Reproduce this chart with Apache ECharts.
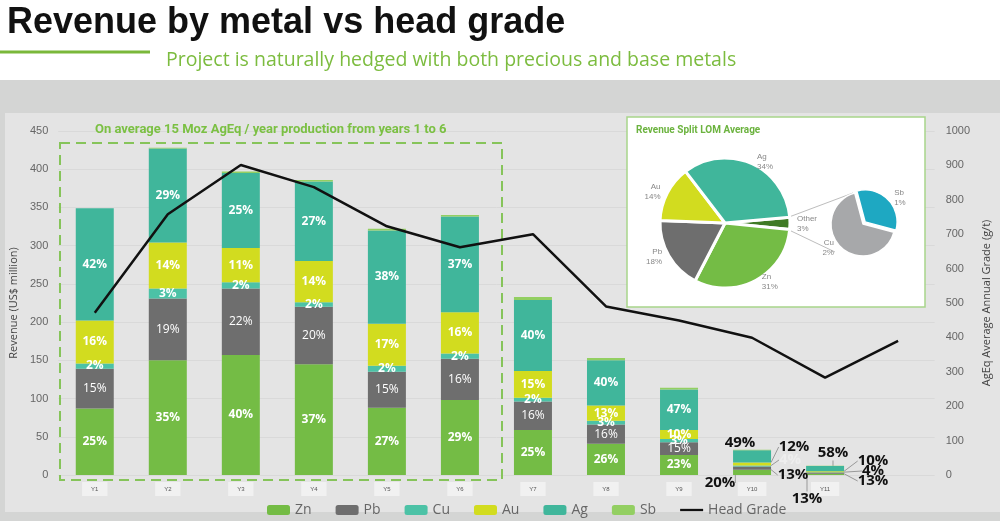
<!DOCTYPE html>
<html>
<head>
<meta charset="utf-8">
<script src="https://cdn.jsdelivr.net/npm/echarts@6/dist/echarts.min.js"></script>
<style>
  html, body { margin: 0; padding: 0; background: #fff; }
  #chart { width: 1000px; height: 521px; }
</style>
</head>
<body>
<div id="chart"></div>
<script>
// years (Y12 has only a head grade point)
var years = ['Y1','Y2','Y3','Y4','Y5','Y6','Y7','Y8','Y9','Y10','Y11',''];

// revenue by metal, US$ million
var zn = [87, 150, 157, 145, 88, 98, 59, 41, 26, 7, 1.6];
var pb = [52, 81, 87, 75, 47, 54, 37, 25, 17, 4, 1.6];
var cu = [7, 13, 8, 6, 8, 7, 5, 5, 4, 1.3, 0.5];
var au = [56, 60, 45, 54, 55, 54, 35, 20, 12, 4, 1.2];
var ag = [147, 123, 98, 104, 122, 125, 93, 59, 53, 16, 7];
var sb = [0, 1, 2, 2, 2, 2, 4, 3, 2, 0.7, 0.3];

// share of each year's revenue, %
var znPct = [25, 35, 40, 37, 27, 29, 25, 26, 23, 20, 13];
var pbPct = [15, 19, 22, 20, 15, 16, 16, 16, 15, 13, 13];
var cuPct = [2, 3, 2, 2, 2, 2, 2, 3, 3, 4, 4];
var auPct = [16, 14, 11, 14, 17, 16, 15, 13, 10, 12, 10];
var agPct = [42, 29, 25, 27, 38, 37, 40, 40, 47, 49, 58];

// AgEq head grade, g/t
var headGrade = [472, 758, 901, 837, 723, 662, 700, 490, 449, 399, 283, 390];

// LOM revenue split
var lomNames = ['Other', 'Zn', 'Pb', 'Au', 'Ag'];
var lomPct = [3, 31, 18, 14, 34];
var otherNames = ['Sb', 'Cu'];
var otherPct = [1, 2];

// where the small-bar labels (Y10, Y11) are moved to
var outPos = {
    Zn: [[720, 483], [807, 499]],
    Pb: [[793, 475], [873, 481]],
    Cu: [[790, 460], [873, 471]],
    Au: [[794, 447], [873, 461]],
    Ag: [[740, 443], [833, 453]]
};

var colors = {
    Zn: '#74bc45', Pb: '#6e6e6e', Cu: '#4cc2a6', Au: '#d2dc1f', Ag: '#40b69b', Sb: '#93cf62'
};

function barSeries(name, values, pcts, labelStyle) {
    var data = values.map(function (v, i) {
        if (i < 9) return v;
        return {
            value: v,
            label: {
                show: true,
                color: (name === 'Cu' && i === 9) ? '#eeeeee' : '#111',
                fontSize: 15,
                fontWeight: 'bold'
            },
            labelLine: { show: true, lineStyle: { color: '#999', width: 1 } }
        };
    });
    return {
        name: name,
        type: 'bar',
        stack: 'rev',
        barWidth: 38,
        data: data,
        itemStyle: { color: colors[name] },
        label: {
            show: pcts != null,
            position: 'inside',
            color: '#fff',
            fontFamily: 'Open Sans',
            fontSize: 12,
            fontWeight: labelStyle || 'bold',
            formatter: function (p) { return pcts ? pcts[p.dataIndex] + '%' : ''; }
        },
        labelLayout: function (p) {
            if (!outPos[name]) return {};
            var k = p.dataIndex - 9;
            if (k < 0 || k > 1) return {};
            return { x: outPos[name][k][0], y: outPos[name][k][1], align: 'center', verticalAlign: 'middle' };
        }
    };
}

var myChart = echarts.init(document.getElementById('chart'));
var option = {
    backgroundColor: '#e4e4e4',
    animation: false,
    title: [{
        text: 'Revenue by metal vs head grade',
        left: 2, top: 0,
        textStyle: { fontFamily: 'Liberation Sans', fontSize: 36, fontWeight: 'bold', color: '#111' }
    }, {
        text: 'Project is naturally hedged with both precious and base metals',
        left: 161, top: 45,
        textStyle: { fontFamily: 'Open Sans', fontSize: 19.5, fontWeight: 'normal', color: '#7cbc3f' }
    }],
    graphic: [
        { type: 'rect', z: -1, shape: { x: 0, y: 0, width: 1000, height: 80 }, style: { fill: '#ffffff' } },
        { type: 'rect', z: -1, shape: { x: 0, y: 80, width: 1000, height: 33 }, style: { fill: '#d4d5d4' } },
        { type: 'rect', z: -1, shape: { x: 0, y: 512, width: 1000, height: 9 }, style: { fill: '#d4d5d4' } },
        { type: 'rect', z: -1, shape: { x: 0, y: 113, width: 5, height: 399 }, style: { fill: '#d4d5d4' } },
        { type: 'line', z: 1, shape: { x1: 0, y1: 52, x2: 150, y2: 52 }, style: { stroke: '#7ab83a', lineWidth: 3 } },
        { type: 'rect', z: 1, shape: { x: 60, y: 143, width: 442, height: 337 },
          style: { fill: 'none', stroke: '#86c45a', lineWidth: 2, lineDash: [10, 6] } },
        { type: 'text', z: 1, style: { x: 95, y: 130, text: 'On average 15 Moz AgEq / year production from years 1 to 6',
          font: 'bold 13px Roboto', fill: '#7bc043', textVerticalAlign: 'middle' } },
        { type: 'rect', z: 50, shape: { x: 627, y: 117, width: 298, height: 190 },
          style: { fill: '#ffffff', stroke: '#a8d58a', lineWidth: 1.5 } },
        { type: 'text', z: 51, style: { x: 636, y: 130, text: 'Revenue Split LOM Average',
          font: 'bold 10px Roboto', fill: '#6cb33f', textVerticalAlign: 'middle' } },
        { type: 'line', z: 51, shape: { x1: 789, y1: 217, x2: 853, y2: 193 }, style: { stroke: '#bdbdbd', lineWidth: 1 } },
        { type: 'line', z: 51, shape: { x1: 789, y1: 230, x2: 835, y2: 252 }, style: { stroke: '#bdbdbd', lineWidth: 1 } }
    ],
    legend: {
        left: 262, top: 498,
        itemWidth: 23, itemHeight: 10, itemGap: 24,
        textStyle: { color: '#666', fontSize: 14, fontFamily: 'Open Sans' },
        data: ['Zn', 'Pb', 'Cu', 'Au', 'Ag', 'Sb',
            { name: 'Head Grade', icon: 'path://M0,0L40,0L40,4L0,4Z', itemStyle: { color: '#111' } }]
    },
    grid: { left: 54, right: 58, top: 131, bottom: 46 },
    xAxis: {
        type: 'category',
        data: years.map(function (y) {
            return y ? y : { value: '', textStyle: { backgroundColor: 'transparent', padding: 0 } };
        }),
        axisLine: { show: false },
        axisTick: { show: false },
        axisLabel: {
            margin: 7, fontSize: 6, color: '#555',
            backgroundColor: '#f1f1f1', padding: [4, 9, 4, 9]
        }
    },
    yAxis: [{
        type: 'value', min: 0, max: 450, interval: 50,
        name: 'Revenue (US$ million)', nameLocation: 'middle', nameGap: 31,
        nameTextStyle: { color: '#444', fontSize: 11, fontFamily: 'Open Sans' },
        axisLabel: { color: '#666', fontSize: 11, margin: 10 },
        splitLine: { lineStyle: { color: '#d9d9d9' } }
    }, {
        type: 'value', min: 0, max: 1000, interval: 100,
        name: 'AgEq Average Annual Grade (g/t)', nameLocation: 'middle', nameGap: 40,
        nameTextStyle: { color: '#444', fontSize: 11, fontFamily: 'Open Sans' },
        axisLabel: { color: '#666', fontSize: 11, margin: 11, formatter: function (v) { return String(v); } },
        splitLine: { show: false }
    }],
    series: [
        barSeries('Zn', zn, znPct),
        barSeries('Pb', pb, pbPct, 'normal'),
        barSeries('Cu', cu, cuPct),
        barSeries('Au', au, auPct),
        barSeries('Ag', ag, agPct),
        barSeries('Sb', sb, null),
        {
            name: 'Head Grade',
            type: 'line',
            yAxisIndex: 1,
            data: headGrade,
            symbol: 'none',
            z: 5,
            lineStyle: { color: '#111', width: 2.5 },
            itemStyle: { color: '#111' }
        },
        {
            name: 'LOM',
            type: 'pie',
            z: 60,
            center: [725, 223],
            radius: 65,
            startAngle: 5,
            clockwise: true,
            data: lomNames.map(function (n, i) {
                return { name: n, value: lomPct[i] };
            }),
            color: ['#3f7a25', '#74bc45', '#6e6e6e', '#d2dc1f', '#40b69b'],
            itemStyle: { borderColor: '#fff', borderWidth: 3 },
            label: {
                position: 'outside', formatter: '{b}\n{c}%',
                color: '#888', fontSize: 8, lineHeight: 10
            },
            labelLine: { show: false, length: 2, length2: 0 },
            tooltip: { show: false }
        },
        {
            name: 'Other',
            type: 'pie',
            z: 60,
            center: [863, 224],
            radius: 32,
            startAngle: 105,
            clockwise: true,
            selectedMode: 'single',
            selectedOffset: 3,
            data: otherNames.map(function (n, i) {
                return { name: n, value: otherPct[i], selected: i === 0 };
            }),
            color: ['#1ea8c2', '#a7a8aa'],
            itemStyle: { borderColor: '#fff', borderWidth: 1.5 },
            label: {
                position: 'outside', formatter: '{b}\n{c}%',
                color: '#888', fontSize: 8, lineHeight: 10
            },
            labelLine: { show: false, length: 2, length2: 0 }
        }
    ]
};
myChart.setOption(option);
</script>
</body>
</html>
